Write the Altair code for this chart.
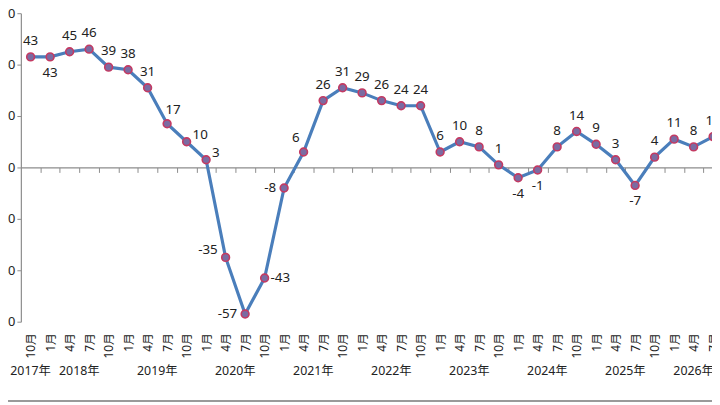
import json
import altair as alt
import pandas as pd

# ---- data ----
months = ["10月",
          "1月", "4月", "7月", "10月",
          "1月", "4月", "7月", "10月",
          "1月", "4月", "7月", "10月",
          "1月", "4月", "7月", "10月",
          "1月", "4月", "7月", "10月",
          "1月", "4月", "7月", "10月",
          "1月", "4月", "7月", "10月",
          "1月", "4月", "7月", "10月",
          "1月", "4月", "7月"]
years = ["2017年",
         "2018年", "2018年", "2018年", "2018年",
         "2019年", "2019年", "2019年", "2019年",
         "2020年", "2020年", "2020年", "2020年",
         "2021年", "2021年", "2021年", "2021年",
         "2022年", "2022年", "2022年", "2022年",
         "2023年", "2023年", "2023年", "2023年",
         "2024年", "2024年", "2024年", "2024年",
         "2025年", "2025年", "2025年", "2025年",
         "2026年", "2026年", "2026年"]
values = [43,
          43, 45, 46, 39,
          38, 31, 17, 10,
          3, -35, -57, -43,
          -8, 6, 26, 31,
          29, 26, 24, 24,
          6, 10, 8, 1,
          -4, -1, 8, 14,
          9, 3, -7, 4,
          11, 8, 12]
# data-label placement (t=top, b=bottom, l=left, r=right, ...)
placement = ["t",
             "b", "t", "t", "t",
             "t", "t", "tr", "rt",
             "rt", "lt", "l", "r",
             "l", "tl", "t", "t",
             "t", "t", "t", "t",
             "t", "t", "t", "t",
             "b", "b", "t", "t",
             "t", "t", "b", "t",
             "t", "t", "t"]
y_ticks = [-60, -40, -20, 0, 20, 40, 60]

df = pd.DataFrame({
    "idx": list(range(len(values))),
    "month": months,
    "year": years,
    "value": values,
    "label": [str(v) for v in values],
    "pos": placement,
})

FONT = "Noto Sans, Noto Sans CJK SC, sans-serif"
n = len(values)
x_range = 710          # pixels spanned by all categories (chart is cut at right)
step = x_range / n
plot_w = 699
plot_h = 312

label_expr = "{}[datum.value]".format(json.dumps(months, ensure_ascii=False))

x_scale = alt.Scale(domain=[-0.5, n - 0.5], range=[0, x_range], nice=False, zero=False)
y_scale = alt.Scale(domain=[-60, 60], nice=False)

x_axis = alt.Axis(
    values=list(range(n)),
    labelExpr=label_expr,
    orient="bottom",
    offset=-plot_h / 2,
    domain=True, domainColor="#8c8c8c", domainWidth=1.2,
    ticks=True, tickColor="#8c8c8c", tickSize=5, tickWidth=1,
    tickOffset=step / 2, labelOffset=-step / 2,
    labelAngle=-90, labelAlign="right", labelBaseline="middle",
    labelPadding=plot_h / 2 + 6, labelFontSize=12, labelFont=FONT,
    labelColor="#222", labelOverlap=False, labelBound=False,
    grid=False, title=None,
)
y_axis = alt.Axis(
    values=y_ticks, domain=True, domainColor="#8c8c8c", domainWidth=1.2,
    ticks=True, tickColor="#8c8c8c", tickSize=4, labelPadding=2,
    labelFontSize=13, labelFont=FONT, labelColor="#222",
    grid=False, title=None,
)

base = alt.Chart(df).encode(
    x=alt.X("idx:Q", scale=x_scale, axis=x_axis),
    y=alt.Y("value:Q", scale=y_scale, axis=y_axis),
)

line = base.mark_line(color="#4a7ebb", strokeWidth=3.2)
pts = base.mark_circle(size=62, color="#7b6ba2", stroke="#c43a62",
                       strokeWidth=1.6, opacity=1)

offsets = {
    "t": (0, -16, "center"),
    "b": (0, 16, "center"),
    "l": (-8, 0, "right"),
    "lt": (-8, -7, "right"),
    "r": (6, 0, "left"),
    "rt": (6, -7, "left"),
    "tr": (6, -14, "center"),
    "tl": (-8, -14, "center"),
}
label_layers = []
for code, (dx, dy, al) in offsets.items():
    label_layers.append(
        base.transform_filter(alt.datum.pos == code).mark_text(
            dx=dx, dy=dy, align=al, baseline="middle",
            font=FONT, fontSize=13.5, color="#222",
        ).encode(text="label:N")
    )

year_text = alt.Chart(df).mark_text(
    font=FONT, fontSize=12.5, color="#222", baseline="middle", align="center"
).encode(
    x=alt.X("mean(idx):Q", scale=x_scale, axis=x_axis),
    y=alt.value(362),
    text="year:N",
)

frame = alt.Chart(df).mark_rule(color="#9a9a9a", strokeWidth=1.5).encode(
    x=alt.value(-20), x2=alt.value(720), y=alt.value(392)
)

chart = alt.layer(line, pts, *label_layers, year_text, frame).properties(
    width=plot_w, height=plot_h,
    autosize=alt.AutoSizeParams(type="none"),
    padding={"left": 13, "top": 3, "right": 0, "bottom": 82},
    background="white",
).configure_view(strokeWidth=0)

chart.save("out.html", embed_options={"renderer": "svg", "actions": False})
